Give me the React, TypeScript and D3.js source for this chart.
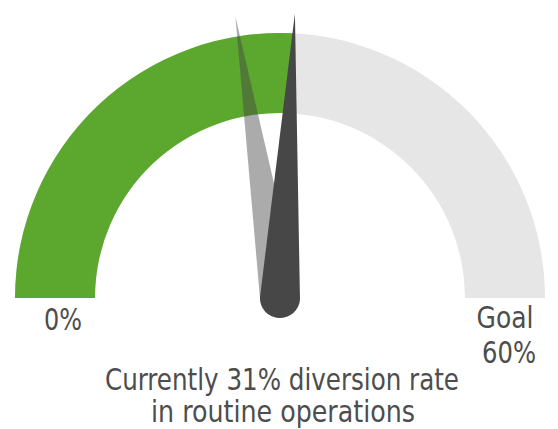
import React, { useEffect, useRef } from "react";
import * as d3 from "d3";

// gauge data
const gaugeDomain = [0, 60];
const currentValue = [31];
const ghostValue = [27];
const startLabel = ["0%"];
const goalLabel = ["Goal", "60%"];
const captionLines = ["Currently 31% diversion rate", "in routine operations"];

const App = () => {
  const ref = useRef<SVGSVGElement | null>(null);

  useEffect(() => {
    const width = 558;
    const height = 429;
    const cx = 280;
    const cy = 298;
    const outerR = 265;
    const innerR = 185;
    const needleLen = 285;
    const baseR = 20;
    const font = "'DejaVu Sans Condensed', 'Liberation Sans Narrow', sans-serif";

    const svg = d3.select(ref.current);
    svg.selectAll("*").remove();
    svg.attr("width", width).attr("height", height);

    const angle = d3.scaleLinear().domain(gaugeDomain).range([-Math.PI / 2, Math.PI / 2]);

    const g = svg.append("g").attr("transform", `translate(${cx},${cy})`);
    const arc = d3.arc<any>().innerRadius(innerR).outerRadius(outerR);

    // background track
    g.append("path")
      .attr("d", arc({ startAngle: angle(gaugeDomain[0]), endAngle: angle(gaugeDomain[1]) }))
      .attr("fill", "#e6e6e6");

    // value
    g.append("path")
      .attr("d", arc({ startAngle: angle(gaugeDomain[0]), endAngle: angle(currentValue[0]) }))
      .attr("fill", "#5ca72e");

    const needlePath = `M${-baseR},0 L0,${-needleLen} L${baseR},0 A${baseR},${baseR} 0 0 1 ${-baseR},0 Z`;
    const deg = (v: number) => (angle(v) * 180) / Math.PI;

    // ghost needle
    g.append("path")
      .attr("d", needlePath)
      .attr("transform", `rotate(${deg(ghostValue[0])})`)
      .attr("fill", "#444")
      .attr("fill-opacity", 0.45);

    // current needle
    g.append("path")
      .attr("d", needlePath)
      .attr("transform", `rotate(${deg(currentValue[0])})`)
      .attr("fill", "#474747");

    // squeeze text to the narrow look of the original font
    const txt = (s: string, x: number, y: number, size: number, len: number) =>
      svg.append("text")
        .attr("x", x)
        .attr("y", y)
        .attr("text-anchor", "middle")
        .attr("font-family", font)
        .attr("font-size", size)
        .attr("fill", "#4d4d4d")
        .attr("textLength", len)
        .attr("lengthAdjust", "spacingAndGlyphs")
        .text(s);

    txt(startLabel[0], 63, 330, 31, 38);
    txt(goalLabel[0], 505, 328, 31, 57);
    txt(goalLabel[1], 509, 363, 31, 54);
    txt(captionLines[0], 282, 390, 30, 354);
    txt(captionLines[1], 283, 422, 30, 264);
  }, []);

  return <svg ref={ref} style={{ position: "absolute", left: 0, top: 0 }} />;
};

export default App;
